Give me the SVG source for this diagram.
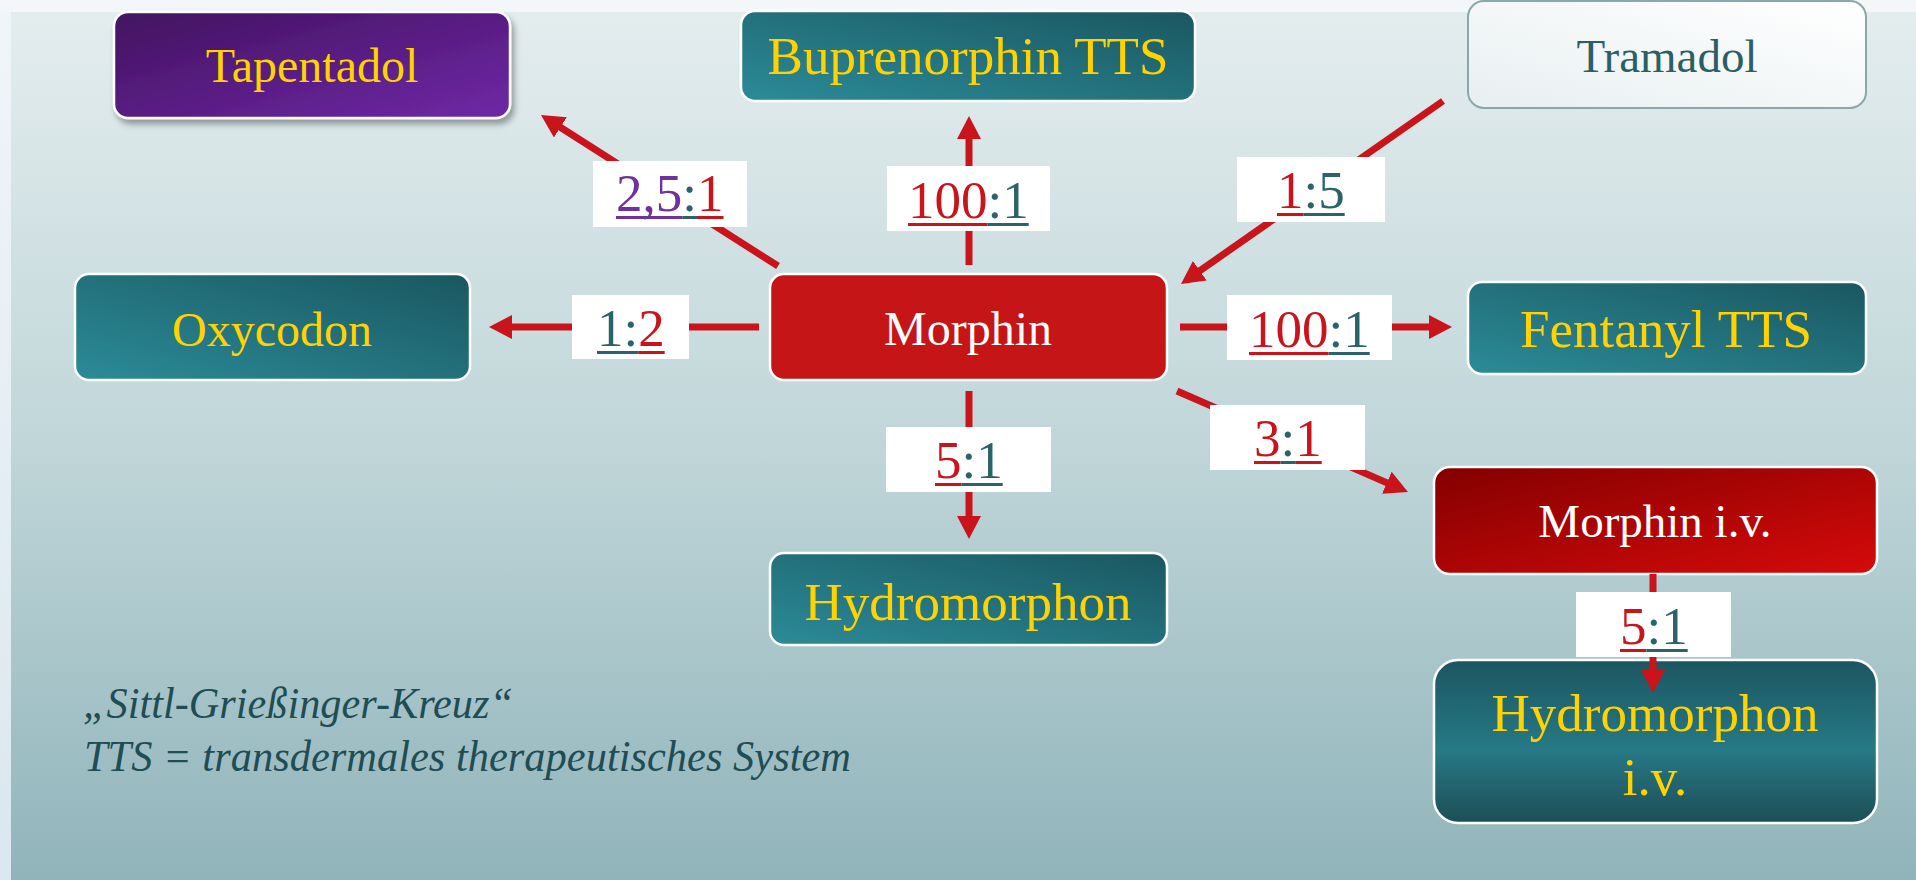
<svg xmlns="http://www.w3.org/2000/svg" width="1916" height="880" viewBox="0 0 1916 880">
<defs>
<linearGradient id="bgMain" x1="0" y1="0" x2="0" y2="1"><stop offset="0" stop-color="#e4edee"/><stop offset="0.5" stop-color="#c0d6d9"/><stop offset="1" stop-color="#90b4ba"/></linearGradient>
<linearGradient id="bgLeft" x1="0" y1="0" x2="0" y2="1"><stop offset="0" stop-color="#f0f5f9"/><stop offset="1" stop-color="#dae7ef"/></linearGradient>
<linearGradient id="teal" x1="0" y1="1" x2="1" y2="0"><stop offset="0" stop-color="#2b8b98"/><stop offset="1" stop-color="#1a5760"/></linearGradient>
<linearGradient id="purple" x1="0" y1="0" x2="1" y2="1"><stop offset="0" stop-color="#42125f"/><stop offset="1" stop-color="#6f28a6"/></linearGradient>
<linearGradient id="darkred" x1="0" y1="0" x2="1" y2="1"><stop offset="0" stop-color="#840000"/><stop offset="1" stop-color="#d60a0a"/></linearGradient>
<linearGradient id="white" x1="0" y1="1" x2="1" y2="0"><stop offset="0" stop-color="#e8eff1"/><stop offset="1" stop-color="#ffffff"/></linearGradient>
<linearGradient id="tealV" x1="0" y1="0" x2="0" y2="1"><stop offset="0" stop-color="#1b5660"/><stop offset="0.55" stop-color="#267986"/><stop offset="1" stop-color="#1d4e57"/></linearGradient>
<filter id="shadow" x="-10%" y="-10%" width="125%" height="140%"><feDropShadow dx="3" dy="5" stdDeviation="3" flood-color="#000" flood-opacity="0.35"/></filter>
<marker id="ah" markerUnits="userSpaceOnUse" markerWidth="24" markerHeight="24" refX="2" refY="12" orient="auto" viewBox="0 0 24 24"><path d="M0,0 L23,12 L0,24 z" fill="#c8141a"/></marker>
<style>
.node{stroke:#ffffff;stroke-width:2.5}
.nt{font-family:"Liberation Serif","Times New Roman",serif;text-anchor:middle;fill:#ffd200}
.wt{fill:#ffffff}
.conn{stroke:#c8141a;stroke-width:7;fill:none}
.lbl{fill:#ffffff}
.lt{font-family:"Liberation Serif","Times New Roman",serif;font-size:53px}
.r{fill:#c8141a}.t{fill:#2a6469}.p{fill:#7030a0}
.foot{font-family:"Liberation Serif","Times New Roman",serif;font-style:italic;font-size:44px;fill:#1f4d54}
</style>
</defs>
<rect x="0" y="0" width="1916" height="880" fill="#f3f7f9"/>
<rect x="0" y="12" width="11" height="868" fill="url(#bgLeft)"/>
<rect x="11" y="12" width="1905" height="868" fill="url(#bgMain)"/>

<g id="tapentadol"><rect class="node" x="114" y="12" width="396" height="106" rx="14" fill="url(#purple)" filter="url(#shadow)"/><text class="nt" x="312" y="82" font-size="48">Tapentadol</text></g>
<g id="buprenorphin"><rect class="node" x="741" y="11" width="454" height="90" rx="14" fill="url(#teal)"/><text class="nt" x="968" y="74" font-size="53">Buprenorphin TTS</text></g>
<g id="tramadol"><rect x="1468" y="1" width="398" height="107" rx="16" fill="url(#white)" stroke="#8aa7ab" stroke-width="2"/><text class="nt" x="1667" y="72" font-size="47" style="fill:#2a5f66">Tramadol</text></g>
<g id="oxycodon"><rect class="node" x="75" y="274" width="395" height="106" rx="14" fill="url(#teal)"/><text class="nt" x="272" y="346" font-size="48">Oxycodon</text></g>
<g id="morphin"><rect class="node" x="770" y="274" width="397" height="106" rx="14" fill="#c61517"/><text class="nt wt" x="968" y="345" font-size="48">Morphin</text></g>
<g id="fentanyl"><rect class="node" x="1468" y="282" width="398" height="92" rx="14" fill="url(#teal)"/><text class="nt" x="1666" y="347" font-size="53">Fentanyl TTS</text></g>
<g id="hydromorphon"><rect class="node" x="770" y="553" width="397" height="92" rx="14" fill="url(#teal)"/><text class="nt" x="968" y="620" font-size="53">Hydromorphon</text></g>
<g id="morphin-iv"><rect class="node" x="1434" y="467" width="443" height="107" rx="16" fill="url(#darkred)"/><text class="nt wt" x="1655" y="537" font-size="47">Morphin i.v.</text></g>
<g id="hydromorphon-iv"><rect class="node" x="1434" y="660" width="443" height="163" rx="24" fill="url(#tealV)"/><text class="nt" x="1655" y="731" font-size="53">Hydromorphon</text><text class="nt" x="1655" y="795" font-size="53">i.v.</text></g>

<g id="connectors">
<line class="conn" x1="778" y1="266" x2="558.7" y2="126.3" marker-end="url(#ah)"/>
<line class="conn" x1="969" y1="265" x2="969" y2="137" marker-end="url(#ah)"/>
<line class="conn" x1="1443" y1="101" x2="1198.2" y2="271.9" marker-end="url(#ah)"/>
<line class="conn" x1="759" y1="327" x2="510" y2="327" marker-end="url(#ah)"/>
<line class="conn" x1="1180" y1="327" x2="1431" y2="327" marker-end="url(#ah)"/>
<line class="conn" x1="1177" y1="391" x2="1388.7" y2="483.6" marker-end="url(#ah)"/>
<line class="conn" x1="969" y1="391" x2="969" y2="518" marker-end="url(#ah)"/>
<line class="conn" x1="1653" y1="574" x2="1653" y2="672" marker-end="url(#ah)"/>
</g>

<g id="labels">
<g id="l-tap"><rect class="lbl" x="593" y="161" width="154" height="66"/><text class="lt" x="616" y="211"><tspan class="p">2,5</tspan><tspan class="t">:</tspan><tspan class="r">1</tspan></text><rect class="p" x="616" y="216" width="66.3" height="3"/><rect class="t" x="682.3" y="216" width="14.7" height="3"/><rect class="r" x="697" y="216" width="26.5" height="3"/></g>
<g id="l-bup"><rect class="lbl" x="887" y="166" width="163" height="65"/><text class="lt" x="908" y="218"><tspan class="r">100</tspan><tspan class="t">:1</tspan></text><rect class="r" x="908" y="223" width="79.5" height="3"/><rect class="t" x="987.5" y="223" width="41.2" height="3"/></g>
<g id="l-tra"><rect class="lbl" x="1237" y="157" width="148" height="65"/><text class="lt" x="1277" y="208"><tspan class="r">1</tspan><tspan class="t">:5</tspan></text><rect class="r" x="1277" y="213" width="26.5" height="3"/><rect class="t" x="1303.5" y="213" width="41.2" height="3"/></g>
<g id="l-oxy"><rect class="lbl" x="572" y="295" width="117" height="64"/><text class="lt" x="597" y="346"><tspan class="t">1:</tspan><tspan class="r">2</tspan></text><rect class="t" x="597" y="351" width="41.2" height="3"/><rect class="r" x="638.2" y="351" width="26.5" height="3"/></g>
<g id="l-fen"><rect class="lbl" x="1227" y="295" width="165" height="65"/><text class="lt" x="1249" y="347"><tspan class="r">100</tspan><tspan class="t">:1</tspan></text><rect class="r" x="1249" y="352" width="79.5" height="3"/><rect class="t" x="1328.5" y="352" width="41.2" height="3"/></g>
<g id="l-hyd"><rect class="lbl" x="886" y="427" width="165" height="65"/><text class="lt" x="935" y="478"><tspan class="r">5</tspan><tspan class="t">:1</tspan></text><rect class="r" x="935" y="483" width="26.5" height="3"/><rect class="t" x="961.5" y="483" width="41.2" height="3"/></g>
<g id="l-miv"><rect class="lbl" x="1210" y="405" width="155" height="65"/><text class="lt" x="1254" y="456"><tspan class="r">3</tspan><tspan class="t">:</tspan><tspan class="r">1</tspan></text><rect class="r" x="1254" y="461" width="26.5" height="3"/><rect class="t" x="1280.5" y="461" width="14.7" height="3"/><rect class="r" x="1295.2" y="461" width="26.5" height="3"/></g>
<g id="l-hiv"><rect class="lbl" x="1576" y="592" width="155" height="65"/><text class="lt" x="1620" y="644"><tspan class="r">5</tspan><tspan class="t">:1</tspan></text><rect class="r" x="1620" y="649" width="26.5" height="3"/><rect class="t" x="1646.5" y="649" width="41.2" height="3"/></g>
</g>

<g id="footnote"><text class="foot" x="83" y="718" textLength="430" lengthAdjust="spacingAndGlyphs">„Sittl-Grießinger-Kreuz“</text><text class="foot" x="84" y="771" textLength="767" lengthAdjust="spacingAndGlyphs">TTS = transdermales therapeutisches System</text></g>
</svg>
